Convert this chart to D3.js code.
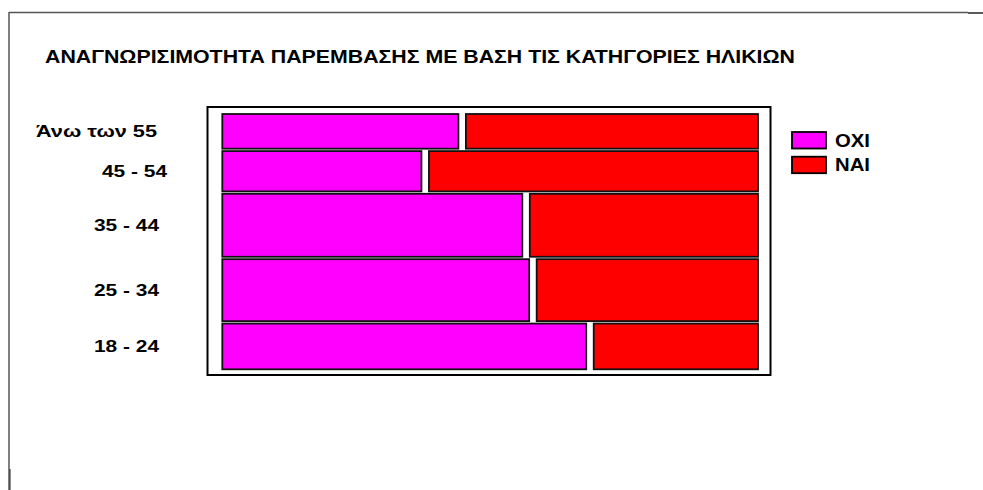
<!DOCTYPE html>
<html>
<head>
<meta charset="utf-8">
<script src="https://cdn.jsdelivr.net/npm/d3@7"></script>
<style>
  html, body { margin: 0; padding: 0; background: #fff; }
  svg { display: block; font-family: "Liberation Sans", Arial, sans-serif; }
</style>
</head>
<body>
<svg id="chart" width="983" height="490"></svg>
<script>
// ---- data ----
const title = "ΑΝΑΓΝΩΡΙΣΙΜΟΤΗΤΑ ΠΑΡΕΜΒΑΣΗΣ ΜΕ ΒΑΣΗ ΤΙΣ ΚΑΤΗΓΟΡΙΕΣ ΗΛΙΚΙΩΝ";
const categories = ["Άνω των 55", "45 - 54", "35 - 44", "25 - 34", "18 - 24"];
const groupShare = [14.1, 16.4, 25.6, 25.2, 18.6];   // share of respondents (row height)
const oxiPct = [44.7, 37.7, 56.8, 58.1, 68.9];       // % ΟΧΙ within each age group
const naiPct = oxiPct.map(v => 100 - v);              // % ΝΑΙ (complement)
const seriesNames = ["OXI", "NAI"];
const seriesColors = ["#FF00FF", "#FF0000"];

// ---- drawing ----
const svg = d3.select("#chart");

// page border lines
svg.append("line").attr("x1", 9).attr("x2", 968).attr("y1", 12.5).attr("y2", 12.5)
  .attr("stroke", "#555").attr("stroke-width", 1.5);
svg.append("line").attr("x1", 968).attr("x2", 983).attr("y1", 13).attr("y2", 13)
  .attr("stroke", "#222").attr("stroke-width", 1.5);
svg.append("line").attr("x1", 9).attr("x2", 9).attr("y1", 12).attr("y2", 490)
  .attr("stroke", "#555").attr("stroke-width", 1.5);
svg.append("line").attr("x1", 10).attr("x2", 10).attr("y1", 469).attr("y2", 490)
  .attr("stroke", "#222").attr("stroke-width", 1);

// title (source image is horizontally stretched -> textLength)
svg.append("text").attr("x", 45).attr("y", 63)
  .attr("font-size", 19).attr("font-weight", "bold").attr("fill", "#000")
  .attr("textLength", 750).attr("lengthAdjust", "spacingAndGlyphs")
  .text(title);

// plot frame
svg.append("rect").attr("x", 207.5).attr("y", 107).attr("width", 563).attr("height", 268)
  .attr("fill", "#fff").attr("stroke", "#000").attr("stroke-width", 2);

const gapX = 7.5, gapY = 2.4;
const x = d3.scaleLinear().domain([0, 100]).range([222.3, 758 - gapX]);
const total = d3.sum(groupShare);
const n = categories.length;
const y = d3.scaleLinear().domain([0, total]).range([114, 369.3 - (n - 1) * gapY]);

const cum = groupShare.map((d, i) => d3.sum(groupShare.slice(0, i)));
const rows = categories.map((c, i) => ({
  cat: c, i,
  y0: y(cum[i]) + i * gapY,
  y1: y(cum[i] + groupShare[i]) + i * gapY,
  oxi: oxiPct[i], nai: naiPct[i]
}));

const g = svg.append("g");
rows.forEach(r => {
  g.append("rect")
    .attr("x", x(0)).attr("y", r.y0)
    .attr("width", x(r.oxi) - x(0)).attr("height", r.y1 - r.y0)
    .attr("fill", seriesColors[0]).attr("stroke", "#111").attr("stroke-width", 1.8);
  g.append("rect")
    .attr("x", x(r.oxi) + gapX).attr("y", r.y0)
    .attr("width", x(r.oxi + r.nai) - x(r.oxi)).attr("height", r.y1 - r.y0)
    .attr("fill", seriesColors[1]).attr("stroke", "#111").attr("stroke-width", 1.8);
});

// row labels (stretched like the source)
const labelX = [36, 102, 94, 94, 94];
const labelW = [121, 65, 65, 65, 65];
rows.forEach(r => {
  svg.append("text")
    .attr("x", labelX[r.i]).attr("y", (r.y0 + r.y1) / 2)
    .attr("dy", "0.36em")
    .attr("font-size", 16).attr("font-weight", "bold").attr("fill", "#000")
    .attr("textLength", labelW[r.i]).attr("lengthAdjust", "spacingAndGlyphs")
    .text(r.cat);
});

// legend
const leg = svg.append("g");
seriesNames.forEach((s, i) => {
  const yy = 132 + i * 24.7;
  leg.append("rect").attr("x", 792).attr("y", yy).attr("width", 34).attr("height", 16.5)
    .attr("fill", seriesColors[i]).attr("stroke", "#000").attr("stroke-width", 1.8);
  leg.append("text").attr("x", 835).attr("y", yy + 14.7)
    .attr("font-size", 17.5).attr("font-weight", "bold").attr("fill", "#000")
    .attr("textLength", 35).attr("lengthAdjust", "spacingAndGlyphs").text(s);
});
</script>
</body>
</html>
